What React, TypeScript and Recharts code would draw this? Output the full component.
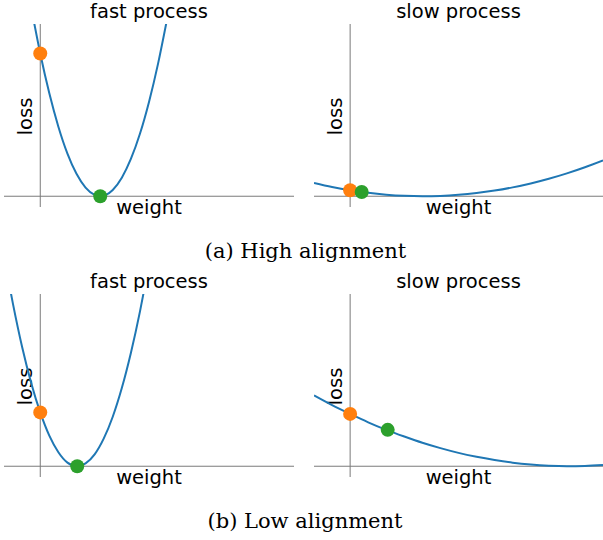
import { ComposedChart, Line, Scatter, XAxis, YAxis, ReferenceLine } from "recharts";

// (a) high alignment, fast process
const fastHighCurve = [
  { w: -0.2, loss: 8.33 }, { w: 0, loss: 6.63 }, { w: 0.25, loss: 4.78 }, { w: 0.5, loss: 3.23 },
  { w: 0.75, loss: 1.98 }, { w: 1.0, loss: 1.04 }, { w: 1.25, loss: 0.4 }, { w: 1.5, loss: 0.06 },
  { w: 1.655, loss: 0 }, { w: 1.8, loss: 0.05 }, { w: 2.0, loss: 0.29 }, { w: 2.25, loss: 0.86 },
  { w: 2.5, loss: 1.73 }, { w: 2.75, loss: 2.9 }, { w: 3.0, loss: 4.38 }, { w: 3.25, loss: 6.16 },
  { w: 3.5, loss: 8.24 },
];
const fastHighStart = [{ w: 0, loss: 6.63 }];
const fastHighEnd = [{ w: 1.655, loss: 0 }];

// (a) high alignment, slow process
const slowHighCurve = [
  { w: -1, loss: 0.62 }, { w: -0.5, loss: 0.432 }, { w: 0, loss: 0.278 }, { w: 0.5, loss: 0.158 },
  { w: 1, loss: 0.072 }, { w: 1.5, loss: 0.019 }, { w: 2, loss: 0 }, { w: 2.5, loss: 0.015 },
  { w: 3, loss: 0.064 }, { w: 3.5, loss: 0.146 }, { w: 4, loss: 0.262 }, { w: 4.5, loss: 0.412 },
  { w: 5, loss: 0.595 }, { w: 5.5, loss: 0.813 }, { w: 6, loss: 1.064 }, { w: 6.5, loss: 1.349 },
  { w: 7, loss: 1.667 },
];
const slowHighStart = [{ w: 0, loss: 0.278 }];
const slowHighEnd = [{ w: 0.32, loss: 0.195 }];

// (b) low alignment, fast process
const fastLowCurve = [
  { w: -0.85, loss: 8.39 }, { w: -0.75, loss: 7.52 }, { w: -0.5, loss: 5.54 }, { w: -0.25, loss: 3.87 },
  { w: 0, loss: 2.5 }, { w: 0.25, loss: 1.42 }, { w: 0.5, loss: 0.65 }, { w: 0.75, loss: 0.17 },
  { w: 1.02, loss: 0 }, { w: 1.25, loss: 0.13 }, { w: 1.5, loss: 0.55 }, { w: 1.75, loss: 1.28 },
  { w: 2.0, loss: 2.3 }, { w: 2.25, loss: 3.63 }, { w: 2.5, loss: 5.26 }, { w: 2.75, loss: 7.18 },
  { w: 2.9, loss: 8.48 },
];
const fastLowStart = [{ w: 0, loss: 2.5 }];
const fastLowEnd = [{ w: 1.02, loss: 0 }];

// (b) low alignment, slow process
const slowLowCurve = [
  { w: -1, loss: 3.29 }, { w: -0.5, loss: 2.84 }, { w: 0, loss: 2.43 }, { w: 0.5, loss: 2.04 },
  { w: 1, loss: 1.69 }, { w: 1.5, loss: 1.38 }, { w: 2, loss: 1.09 }, { w: 2.5, loss: 0.84 },
  { w: 3, loss: 0.62 }, { w: 3.5, loss: 0.44 }, { w: 4, loss: 0.29 }, { w: 4.5, loss: 0.165 },
  { w: 5, loss: 0.078 }, { w: 5.5, loss: 0.023 }, { w: 6, loss: 0 }, { w: 6.5, loss: 0.011 },
  { w: 7, loss: 0.054 },
];
const slowLowStart = [{ w: 0, loss: 2.43 }];
const slowLowEnd = [{ w: 1.04, loss: 1.69 }];

const captions = ["(a) High alignment", "(b) Low alignment"];

const SANS = "DejaVu Sans";
const LABEL_SIZE = 19.5;

// eslint-disable-next-line @typescript-eslint/no-explicit-any
const marker = (color: string) => (p: any) => <circle cx={p.cx} cy={p.cy} r={7} fill={color} />;

// eslint-disable-next-line @typescript-eslint/no-explicit-any
function Panel({ title, curve, start, end, left, top, width, right }: any) {
  return (
    <div style={{ position: "absolute", left, top }}>
      <ComposedChart width={width} height={230} margin={{ top: 24, right, bottom: 23, left: 4 }}>
        <XAxis type="number" dataKey="w" domain={[-1, 7]} hide allowDataOverflow />
        <YAxis type="number" dataKey="loss" domain={[-0.5, 8]} hide allowDataOverflow />
        <ReferenceLine
          y={8}
          stroke="none"
          // eslint-disable-next-line @typescript-eslint/no-explicit-any
          label={({ viewBox }: any) => (
            <text x={viewBox.x + viewBox.width / 2} y={viewBox.y - 6} textAnchor="middle"
              fontFamily={SANS} fontSize={LABEL_SIZE} fill="#000">{title}</text>
          )}
        />
        <ReferenceLine
          x={0}
          stroke="#7a7a7a"
          strokeWidth={1}
          // eslint-disable-next-line @typescript-eslint/no-explicit-any
          label={({ viewBox }: any) => {
            const lx = viewBox.x - 8;
            const ly = viewBox.y + viewBox.height / 2 + 1;
            return (
              <text x={lx} y={ly} transform={`rotate(-90, ${lx}, ${ly})`} textAnchor="middle"
                fontFamily={SANS} fontSize={LABEL_SIZE} fill="#000">loss</text>
            );
          }}
        />
        <ReferenceLine
          y={0}
          stroke="#7a7a7a"
          strokeWidth={1}
          // eslint-disable-next-line @typescript-eslint/no-explicit-any
          label={({ viewBox }: any) => (
            <text x={viewBox.x + viewBox.width / 2} y={viewBox.y + 18} textAnchor="middle"
              fontFamily={SANS} fontSize={LABEL_SIZE} fill="#000">weight</text>
          )}
        />
        <Line data={curve} dataKey="loss" type="monotone" stroke="#1f77b4" strokeWidth={2}
          dot={false} activeDot={false} isAnimationActive={false} />
        <Scatter data={start} dataKey="loss" fill="#ff7f0e" shape={marker("#ff7f0e")} isAnimationActive={false} />
        <Scatter data={end} dataKey="loss" fill="#2ca02c" shape={marker("#2ca02c")} isAnimationActive={false} />
      </ComposedChart>
    </div>
  );
}

export default function App() {
  return (
    <div style={{ position: "absolute", left: 0, top: 0, width: 603, height: 540, background: "#fff" }}>
      <Panel title="fast process" curve={fastHighCurve} start={fastHighStart} end={fastHighEnd}
        left={0} top={0} width={300} right={6} />
      <Panel title="slow process" curve={slowHighCurve} start={slowHighStart} end={slowHighEnd}
        left={310} top={0} width={293} right={0} />
      <Panel title="fast process" curve={fastLowCurve} start={fastLowStart} end={fastLowEnd}
        left={0} top={270} width={300} right={6} />
      <Panel title="slow process" curve={slowLowCurve} start={slowLowStart} end={slowLowEnd}
        left={310} top={270} width={293} right={0} />
      <svg width={603} height={540} style={{ position: "absolute", left: 0, top: 0, pointerEvents: "none" }}>
        <text x={305.5} y={258} textAnchor="middle" fontFamily="DejaVu Serif" fontSize={21} fill="#000">
          {captions[0]}
        </text>
        <text x={305} y={528} textAnchor="middle" fontFamily="DejaVu Serif" fontSize={21} fill="#000">
          {captions[1]}
        </text>
      </svg>
    </div>
  );
}
